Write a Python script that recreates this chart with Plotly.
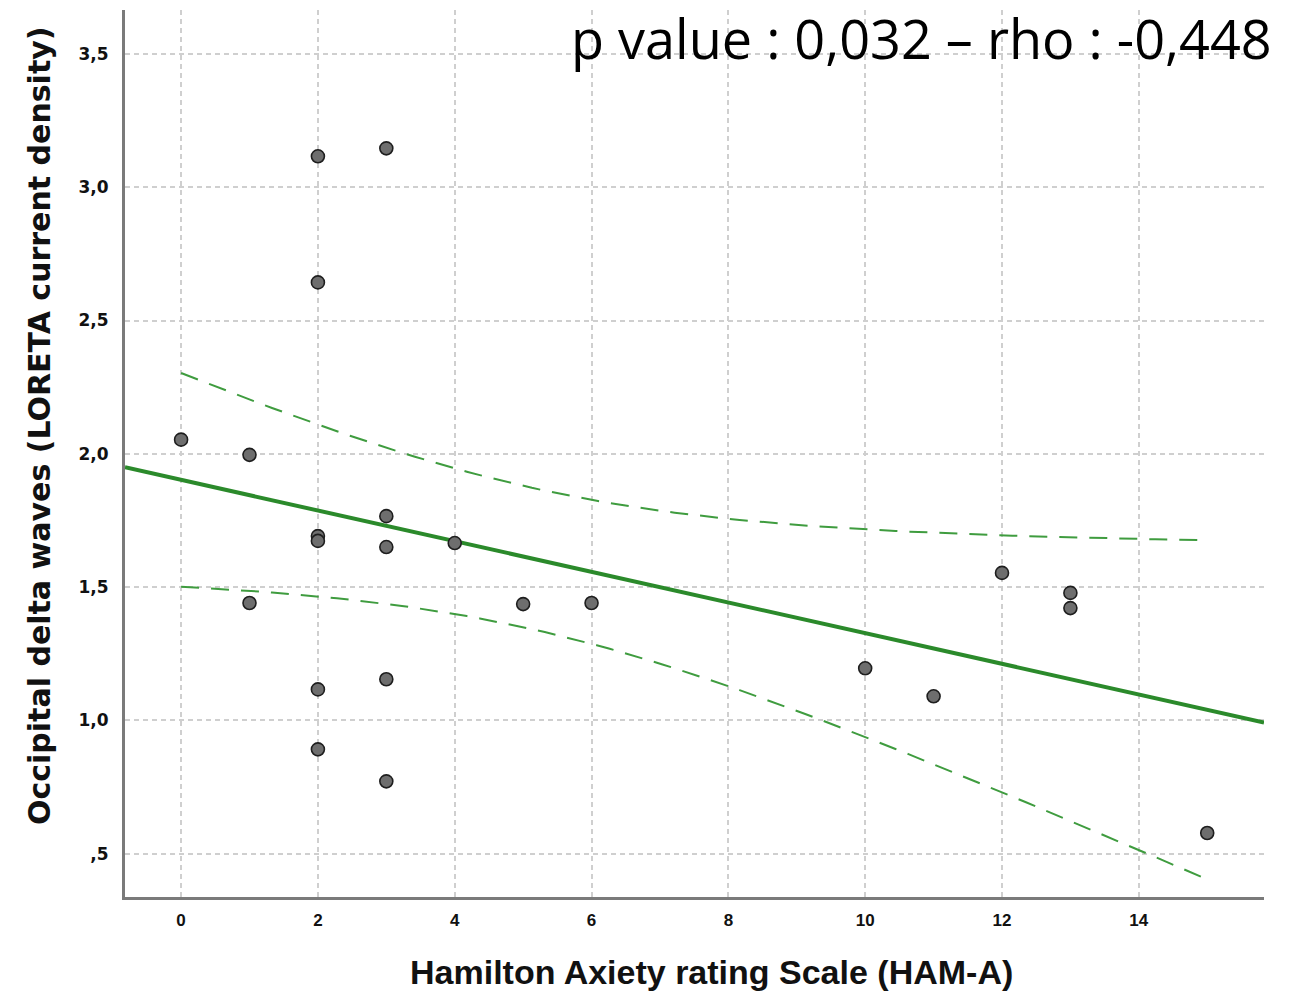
import numpy as np
import plotly.graph_objects as go

# HAM-A scores and occipital delta current density per subject
ham_a = [0, 1, 1, 2, 2, 2, 2, 2, 2, 3, 3, 3, 3, 3, 4, 5, 6, 10, 11, 12, 13, 13, 15]
delta = [2.053, 1.996, 1.440, 3.116, 2.643, 1.691, 1.673, 1.116, 0.891,
         3.146, 1.766, 1.650, 1.154, 0.771, 1.665, 1.436, 1.440,
         1.195, 1.090, 1.553, 1.478, 1.421, 0.577]

x_ticks = [0, 2, 4, 6, 8, 10, 12, 14]
x_tick_text = ["0", "2", "4", "6", "8", "10", "12", "14"]
y_ticks = [0.5, 1.0, 1.5, 2.0, 2.5, 3.0, 3.5]
y_tick_text = [",5", "1,0", "1,5", "2,0", "2,5", "3,0", "3,5"]

title_text = "p value : 0,032 \u2013 rho : -0,448"
x_title = "Hamilton Axiety rating Scale (HAM-A)"
y_title = "Occipital delta waves (LORETA current density)"

X_RANGE = [-0.82, 15.83]
Y_RANGE = [0.337, 3.665]
T_CRIT = 2.0796  # t(0.975, df = 21)

# least-squares fit with 95% confidence band for the mean
x = np.asarray(ham_a, dtype=float)
y = np.asarray(delta, dtype=float)
n = len(x)
slope, intercept = np.polyfit(x, y, 1)
resid = y - (slope * x + intercept)
s = np.sqrt(np.sum(resid ** 2) / (n - 2))
sxx = np.sum((x - x.mean()) ** 2)

fit_x = np.array(X_RANGE)
fit_y = slope * fit_x + intercept

band_x = np.linspace(x.min(), x.max(), 80)
band_fit = slope * band_x + intercept
half = T_CRIT * s * np.sqrt(1.0 / n + (band_x - x.mean()) ** 2 / sxx)

GREEN = "#2b8a2b"
BAND_GREEN = "#3f9c3f"

fig = go.Figure()
fig.add_trace(go.Scatter(x=band_x, y=band_fit + half, mode="lines",
                         line=dict(color=BAND_GREEN, width=2, dash="18px,12px"),
                         hoverinfo="skip"))
fig.add_trace(go.Scatter(x=band_x, y=band_fit - half, mode="lines",
                         line=dict(color=BAND_GREEN, width=2, dash="18px,12px"),
                         hoverinfo="skip"))
fig.add_trace(go.Scatter(x=fit_x, y=fit_y, mode="lines",
                         line=dict(color=GREEN, width=4), hoverinfo="skip"))
fig.add_trace(go.Scatter(x=ham_a, y=delta, mode="markers",
                         marker=dict(size=13, color="#6e6e6e",
                                     line=dict(color="#1e1e1e", width=1.6))))

# plot area in pixels
L, R, T, B = 125, 33, 10, 96
W, H = 1297, 993
pw, ph = W - L - R, H - T - B


def px(xp):
    return (xp - L) / pw


def py(yp):
    return (H - B - yp) / ph


fig.update_layout(
    width=W, height=H,
    margin=dict(l=L, r=R, t=T, b=B),
    paper_bgcolor="white", plot_bgcolor="white",
    showlegend=False,
    xaxis=dict(range=X_RANGE, tickvals=x_ticks, ticktext=x_tick_text,
               showgrid=True, gridcolor="#cfcfcf", gridwidth=1.5, griddash="5px,4px",
               zeroline=False, showline=True, linecolor="#7a7a7a", linewidth=3,
               ticks="", ticklabelstandoff=6,
               tickfont=dict(family="Liberation Sans, Arial, sans-serif",
                             size=17, color="#111111", weight="bold")),
    yaxis=dict(range=Y_RANGE, tickvals=y_ticks, ticktext=y_tick_text,
               showgrid=True, gridcolor="#cfcfcf", gridwidth=1.5, griddash="5px,4px",
               zeroline=False, showline=True, linecolor="#7a7a7a", linewidth=3,
               ticks="", ticklabelstandoff=10,
               tickfont=dict(family="DejaVu Sans, sans-serif", size=17,
                             color="#111111", weight="bold")),
    annotations=[
        dict(text=title_text, xref="paper", yref="paper", x=px(570), y=py(0),
             xanchor="left", yanchor="top", showarrow=False, borderpad=0,
             font=dict(family="Open Sans, sans-serif", size=54, color="#000000")),
        dict(text=x_title, xref="paper", yref="paper", x=px(711), y=py(972),
             xanchor="center", yanchor="middle", showarrow=False,
             font=dict(family="Liberation Sans, Arial, sans-serif",
                       size=34, color="#111111", weight="bold")),
        dict(text=y_title, xref="paper", yref="paper", x=px(39), y=py(426),
             xanchor="center", yanchor="middle", showarrow=False, textangle=-90,
             font=dict(family="DejaVu Sans, sans-serif", size=30,
                       color="#111111", weight="bold")),
    ],
)

fig.write_html("out.html")
